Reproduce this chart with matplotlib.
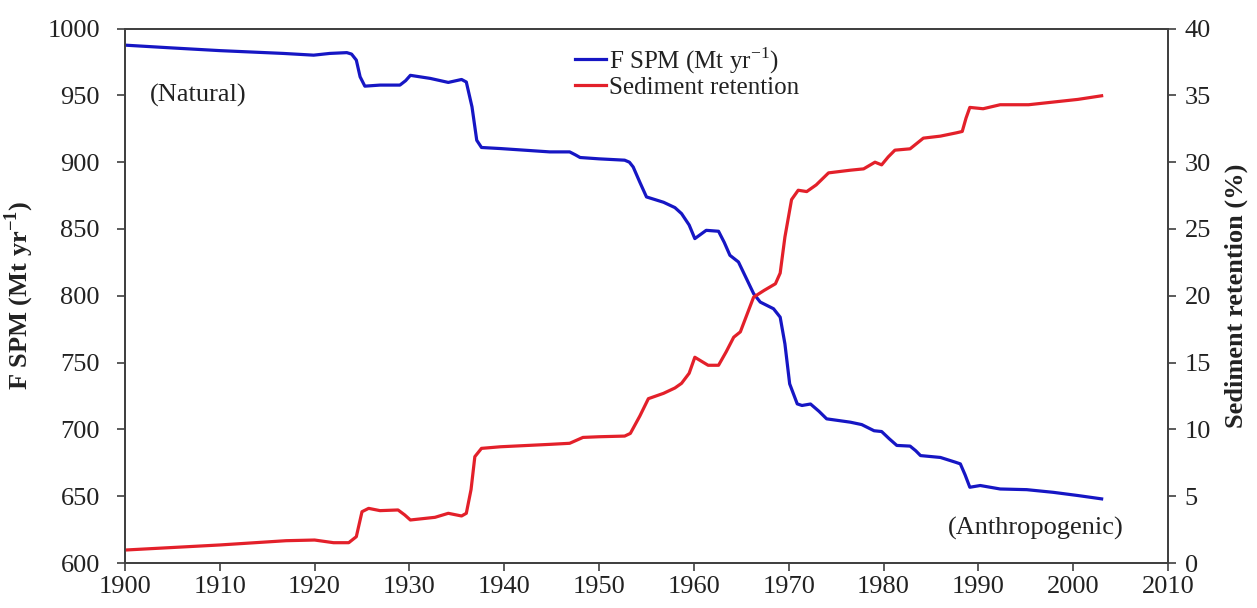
import matplotlib
matplotlib.use("Agg")
import matplotlib.pyplot as plt

plt.rcParams['font.family'] = ['Liberation Serif', 'DejaVu Serif']
plt.rcParams['mathtext.fontset'] = 'custom'
plt.rcParams['mathtext.rm'] = 'Liberation Serif'
plt.rcParams['mathtext.bf'] = 'Liberation Serif:bold'

# F SPM (Mt/yr)
spm_years = [1900, 1905, 1910, 1916.7, 1919.9, 1921.6, 1923.4, 1923.9, 1924.4, 1924.8, 1925.3, 1926.9, 1929.0,
             1929.6, 1930.1, 1932.2, 1934.1, 1935.5, 1936.0, 1936.6, 1937.1, 1937.6, 1939.6, 1944.8,
             1946.9, 1947.5, 1948.0, 1950, 1952.7, 1953.2, 1953.6, 1954.3, 1955.0, 1956.8, 1958.0, 1958.7,
             1959.5, 1960.1, 1961.3, 1962.6, 1963.2, 1963.8, 1964.7, 1965.6, 1966.3, 1967.0, 1968.4,
             1969.1, 1969.6, 1970.1, 1970.9, 1971.4, 1972.3, 1973.2, 1974.0, 1976.5, 1977.7, 1979.0,
             1979.8, 1980.6, 1981.4, 1982.8, 1983.4, 1983.9, 1986.0, 1987.6, 1988.1, 1988.6, 1989.1,
             1990.2, 1992.3, 1995.1, 1997.9, 2000.5, 2003.0]
spm_values = [987.6, 985.5, 983.5, 981.4, 980.1, 981.4, 982.0, 980.9, 976.4, 963.9, 956.9, 957.7, 957.7,
              961.0, 965.0, 962.7, 959.7, 961.9, 960.0, 941.4, 916.4, 911.0, 910.2, 907.7,
              907.7, 905.5, 903.5, 902.5, 901.5, 900.0, 896.4, 885.0, 874.0, 870.0, 866.0, 861.5,
              853.0, 842.8, 849.0, 848.3, 840.0, 830.3, 825.3, 812.0, 801.6, 795.3, 790.3,
              784.0, 764.0, 734.1, 719.1, 717.9, 719.0, 713.5, 707.9, 705.4, 703.6, 699.0,
              698.4, 693.0, 688.0, 687.5, 684.0, 680.4, 679.0, 675.4, 674.2, 666.0, 656.7,
              658.0, 655.4, 654.9, 652.9, 650.5, 648.0]

# Sediment retention (%)
ret_years = [1900, 1910, 1917.0, 1920.0, 1922.0, 1923.6, 1924.4, 1925.0, 1925.7, 1926.9, 1928.8,
             1929.5, 1930.1, 1932.7, 1934.1, 1935.5, 1936.0, 1936.5, 1936.9, 1937.6, 1939.6, 1944.8,
             1946.9, 1948.3, 1950, 1952.7, 1953.3, 1954.3, 1955.2, 1956.8, 1958.0, 1958.7, 1959.5,
             1960.1, 1961.5, 1962.6, 1963.4, 1964.2, 1964.9, 1966.3, 1967.4, 1968.6, 1969.1, 1969.6,
             1970.3, 1971.0, 1971.9, 1972.9, 1974.2, 1976.5, 1977.9, 1979.1, 1979.8, 1980.5, 1981.2,
             1982.8, 1984.2, 1986.0, 1987.7, 1988.3, 1988.7, 1989.1, 1990.5, 1992.3, 1995.3, 1997.9,
             2000.5, 2003.0]
ret_values = [0.97, 1.35, 1.67, 1.72, 1.52, 1.52, 1.97, 3.84, 4.09, 3.92, 3.97,
              3.60, 3.22, 3.42, 3.72, 3.52, 3.72, 5.50, 7.96, 8.58, 8.70, 8.88,
              8.96, 9.40, 9.45, 9.50, 9.70, 11.0, 12.3, 12.7, 13.1, 13.45, 14.2,
              15.4, 14.8, 14.8, 15.8, 16.9, 17.3, 19.9, 20.4, 20.9, 21.7, 24.4,
              27.2, 27.9, 27.8, 28.3, 29.2, 29.4, 29.5, 30.0, 29.8, 30.4, 30.9,
              31.0, 31.8, 31.95, 32.2, 32.3, 33.3, 34.1, 34.0, 34.3, 34.3, 34.5,
              34.7, 34.97]

x_ticks = list(range(1900, 2011, 10))
left_ticks = list(range(600, 1001, 50))
right_ticks = list(range(0, 41, 5))

BLUE = '#1616c4'
RED = '#e3202a'
FS = 19

fig = plt.figure(figsize=(12.57, 6.08), dpi=100)
ax = fig.add_axes([0.0994, 0.074, 0.8298, 0.879])
ax2 = ax.twinx()

l1, = ax.plot(spm_years, spm_values, color=BLUE, lw=2.3, solid_joinstyle='round',
              label='F SPM (Mt yr$^{\\mathregular{-1}}$)')
l2, = ax2.plot(ret_years, ret_values, color=RED, lw=2.3, solid_joinstyle='round',
               label='Sediment retention')

ax.set_xlim(1900, 2010)
ax.set_ylim(600, 1000)
ax2.set_ylim(0, 40)
ax.set_xticks(x_ticks)
ax.set_yticks(left_ticks)
ax2.set_yticks(right_ticks)

for a in (ax, ax2):
    for s in a.spines.values():
        s.set_color('#404040')
        s.set_linewidth(1.3)
    a.tick_params(direction='out', length=6, width=1.2, color='#404040', labelsize=FS, labelcolor='#222222')
ax.tick_params(axis='y', pad=12)
ax2.tick_params(axis='y', pad=6)

ax.set_ylabel('F SPM (Mt yr$^{\\mathregular{-1}}$)', fontsize=FS, fontweight='bold', color='#222222', labelpad=8)
ax2.set_ylabel('Sediment retention (%)', fontsize=FS, fontweight='bold', color='#222222', labelpad=10)

ax.text(1902.6, 950, '(Natural)', fontsize=FS, va='center', ha='left', color='#222222')
ax.text(2005.3, 626, '(Anthropogenic)', fontsize=FS, va='center', ha='right', color='#222222')

leg = ax.legend(handles=[l1, l2], loc='upper left', bbox_to_anchor=(575 / 1257, 1 - 45 / 608),
                bbox_transform=fig.transFigure, frameon=False, fontsize=18,
                handlelength=1.25, handletextpad=0.1, labelspacing=0.02, borderpad=0, borderaxespad=0)
for t in leg.get_texts():
    t.set_color('#222222')

fig.savefig('out.png', dpi=100)
